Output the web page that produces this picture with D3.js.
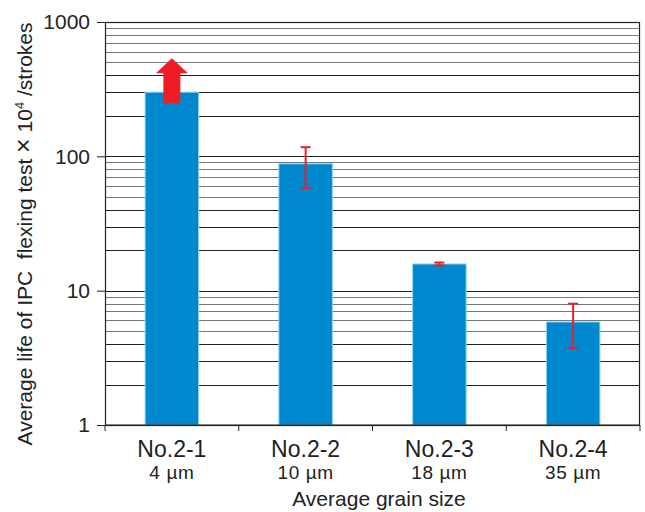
<!DOCTYPE html>
<html><head><meta charset="utf-8">
<script src="https://cdn.jsdelivr.net/npm/d3@7"></script>
<style>body{margin:0;background:#fff}svg{display:block}text{font-family:"Liberation Sans",Arial,sans-serif;fill:#222}</style>
</head><body><svg id="c" width="645" height="512"></svg>
<script>
const categories = ["No.2-1","No.2-2","No.2-3","No.2-4"];
const grainSizes = ["4 µm","10 µm","18 µm","35 µm"];
const lifeValues = [300, 88, 15.8, 5.85];
const errLow = [null, 58, 15.4, 3.75];
const errHigh = [null, 117, 16.2, 8.0];
const exceedsScale = [true, false, false, false];
const yTicks = [1, 10, 100, 1000];

const svg = d3.select("#c");
const m = {l:105, r:640, t:22, b:425};
const x = d3.scaleBand().domain(categories).range([m.l, m.r]).paddingInner(0.6).paddingOuter(0.3);
const xb = d3.scaleBand().domain(categories).range([m.l, m.r]);
const y = d3.scaleLog().domain([1, 1000]).range([m.b, m.t]);

// grid lines
const grid = [];
[1,10,100].forEach(d => { for (let k=2;k<=9;k++) grid.push(d*k); });
grid.push(10, 100);
svg.append("g").selectAll("line").data(grid).join("line")
  .attr("x1", m.l).attr("x2", m.r)
  .attr("y1", d => Math.round(y(d))+0.5).attr("y2", d => Math.round(y(d))+0.5)
  .attr("stroke", d => [2,3,4,20,30,40,200,300,400,10,100].includes(d) ? "#222" : "#777")
  .attr("stroke-width", 1.2);

// bars
svg.append("g").selectAll("rect").data(lifeValues).join("rect")
  .attr("x", (d,i) => x(categories[i])).attr("width", x.bandwidth())
  .attr("y", d => y(d)).attr("height", d => m.b - y(d))
  .attr("fill", "#0088cf").attr("stroke", "#8fd3f3").attr("stroke-width", 1);

// error bars
const eg = svg.append("g").attr("stroke", "#e8202a").attr("stroke-width", 2);
lifeValues.forEach((v,i) => {
  if (errLow[i] == null) return;
  const cx = x(categories[i]) + x.bandwidth()/2;
  eg.append("line").attr("x1", cx).attr("x2", cx).attr("y1", y(errLow[i])).attr("y2", y(errHigh[i]));
  eg.append("line").attr("x1", cx-5).attr("x2", cx+5).attr("y1", y(errLow[i])).attr("y2", y(errLow[i]));
  eg.append("line").attr("x1", cx-5).attr("x2", cx+5).attr("y1", y(errHigh[i])).attr("y2", y(errHigh[i]));
});

// arrow for exceeding values
lifeValues.forEach((v,i) => {
  if (!exceedsScale[i]) return;
  const cx = x(categories[i]) + x.bandwidth()/2;
  const b = y(v) + 11, hb = y(v) - 19, tip = y(v) - 34;
  const sw = 8.5, hw = 16;
  svg.append("path").attr("fill", "#ee1c25")
    .attr("d", `M${cx-sw},${b}L${cx-sw},${hb}L${cx-hw},${hb}L${cx},${tip}L${cx+hw},${hb}L${cx+sw},${hb}L${cx+sw},${b}Z`);
});

// frame
svg.append("rect").attr("x", m.l+0.5).attr("y", m.t+0.5).attr("width", m.r-m.l-1).attr("height", m.b-m.t)
  .attr("fill", "none").attr("stroke", "#222").attr("stroke-width", 1.2);

// y axis
const ya = svg.append("g").attr("transform", `translate(${m.l},0)`)
  .call(d3.axisLeft(y).tickValues(yTicks).tickFormat(d3.format("d")).tickSize(8).tickPadding(7));
ya.select(".domain").attr("stroke", "#222");
ya.selectAll(".tick line").attr("stroke", "#222");
ya.selectAll("text").style("font-size", "21px").attr("fill", "#222");

// x axis
const xa = svg.append("g").attr("transform", `translate(0,${m.b})`);
xa.append("line").attr("x1", m.l).attr("x2", m.r).attr("stroke", "#222");
xa.selectAll("line.t").data(categories.concat(["end"])).join("line").attr("class","t")
  .attr("x1", (d,i) => i < 4 ? xb(d) : m.r).attr("x2", (d,i) => i < 4 ? xb(d) : m.r)
  .attr("y1", 0).attr("y2", 6).attr("stroke", "#222");
categories.forEach((c,i) => {
  const cx = xb(c) + xb.bandwidth()/2;
  svg.append("text").attr("x", cx).attr("y", 457).attr("text-anchor", "middle").style("font-size", "23px").text(c);
  svg.append("text").attr("x", cx).attr("y", 479).attr("text-anchor", "middle").style("font-size", "19px")
    .style("letter-spacing", "0.6px").text(grainSizes[i]);
});
svg.append("text").attr("x", 379).attr("y", 506).attr("text-anchor", "middle").style("font-size", "21px").text("Average grain size");

// y title
const yt = svg.append("text").attr("transform", "translate(32,234) rotate(-90)").attr("text-anchor", "middle")
  .style("font-size", "21px").style("white-space", "pre");
yt.append("tspan").text("Average life of IPC  flexing test ");
yt.append("tspan").style("font-size", "25px").text("×");
yt.append("tspan").text(" 10");
yt.append("tspan").attr("dy", -8).style("font-size", "13px").text("4");
yt.append("tspan").attr("dy", 8).text(" /strokes");
</script></body></html>
